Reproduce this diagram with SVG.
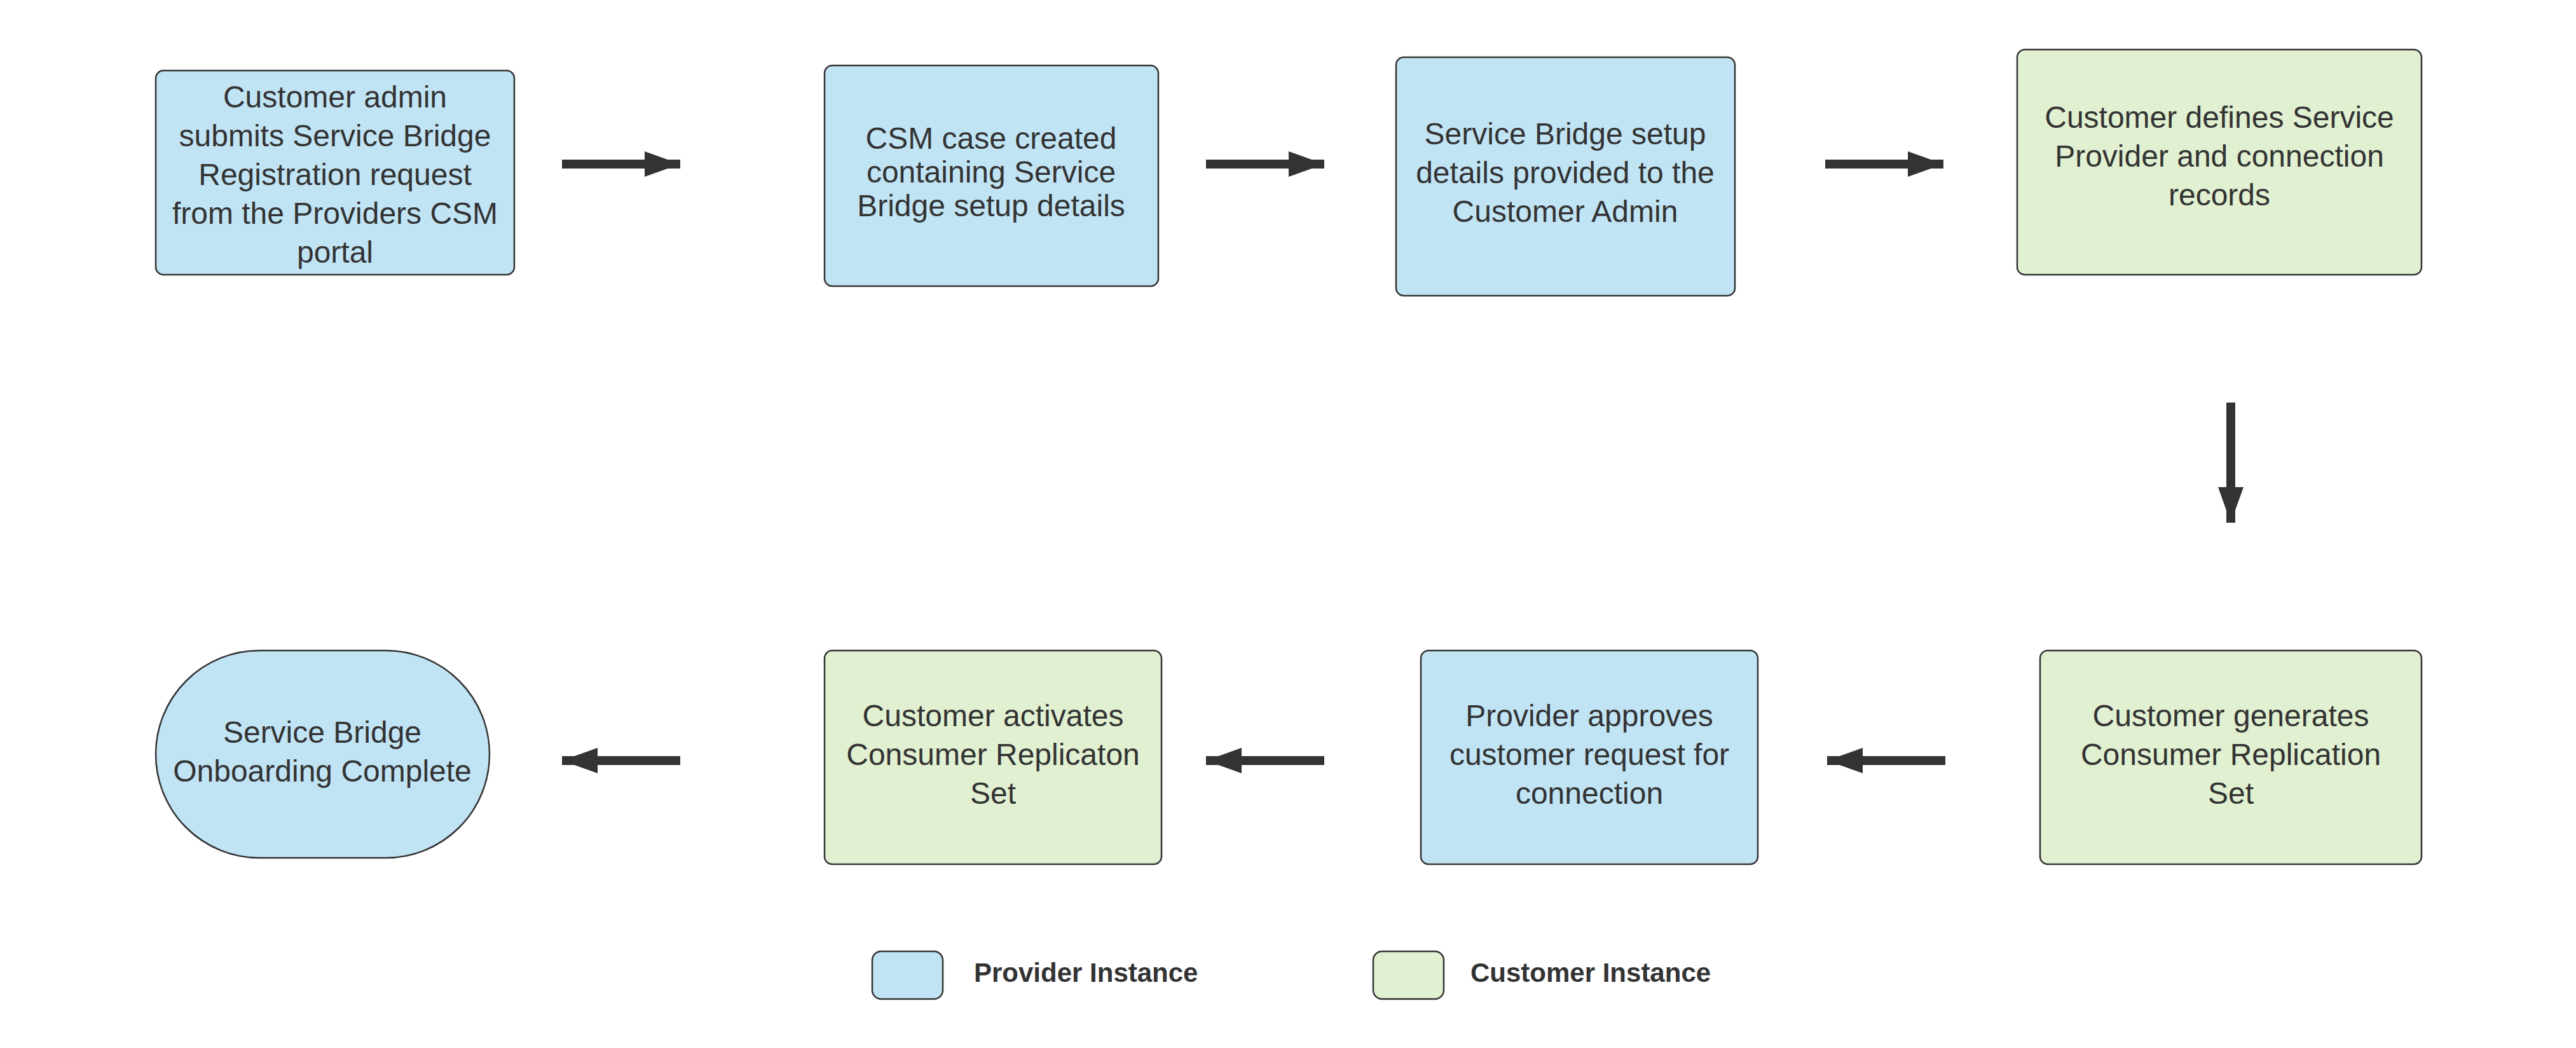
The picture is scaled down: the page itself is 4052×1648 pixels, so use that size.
<svg xmlns="http://www.w3.org/2000/svg" width="4052" height="1648" viewBox="0 0 4052 1648">
<style>
.b{fill:#c1e4f5;stroke:#333;stroke-width:2.5}
.g{fill:#e0f0d1;stroke:#333;stroke-width:2.5}
text{font-family:"Liberation Sans",Arial,sans-serif;font-size:48px;fill:#333;text-anchor:middle}
.l{font-size:42px;font-weight:bold;text-anchor:start}
.c{stroke:#333;stroke-width:14;fill:none;marker-end:url(#ah)}
</style>
<defs><marker id="ah" markerUnits="userSpaceOnUse" markerWidth="60" markerHeight="60" refX="56" refY="20" orient="auto" viewBox="0 0 60 40"><path d="M0,0L56,20L0,40z" fill="#333"/></marker></defs>
<rect width="4052" height="1648" fill="#fff"/>
<g id="n1"><rect class="b" x="245" y="111" width="564" height="321" rx="12"/>
<text x="527" y="169">Customer admin</text><text x="527" y="230">submits Service Bridge</text><text x="527" y="291">Registration request</text><text x="527" y="352">from the Providers CSM</text><text x="527" y="413">portal</text></g>
<g id="n2"><rect class="b" x="1297" y="103" width="525" height="347" rx="12"/>
<text x="1559" y="234">CSM case created</text><text x="1559" y="287">containing Service</text><text x="1559" y="340">Bridge setup details</text></g>
<g id="n3"><rect class="b" x="2196" y="90" width="533" height="375" rx="12"/>
<text x="2462" y="227">Service Bridge setup</text><text x="2462" y="288">details provided to the</text><text x="2462" y="349">Customer Admin</text></g>
<g id="n4"><rect class="g" x="3173" y="78" width="636" height="354" rx="12"/>
<text x="3491" y="201">Customer defines Service</text><text x="3491" y="262">Provider and connection</text><text x="3491" y="323">records</text></g>
<g id="n5"><rect class="g" x="3209" y="1023" width="600" height="336" rx="12"/>
<text x="3509" y="1142">Customer generates</text><text x="3509" y="1203">Consumer Replication</text><text x="3509" y="1264">Set</text></g>
<g id="n6"><rect class="b" x="2235" y="1023" width="530" height="336" rx="12"/>
<text x="2500" y="1142">Provider approves</text><text x="2500" y="1203">customer request for</text><text x="2500" y="1264">connection</text></g>
<g id="n7"><rect class="g" x="1297" y="1023" width="530" height="336" rx="12"/>
<text x="1562" y="1142">Customer activates</text><text x="1562" y="1203">Consumer Replicaton</text><text x="1562" y="1264">Set</text></g>
<g id="n8"><rect class="b" x="245" y="1023" width="525" height="326" rx="163" ry="163"/>
<text x="507" y="1168">Service Bridge</text><text x="507" y="1229">Onboarding Complete</text></g>
<g id="connectors">
<line class="c" x1="884" y1="258" x2="1070" y2="258"/>
<line class="c" x1="1897" y1="258" x2="2083" y2="258"/>
<line class="c" x1="2871" y1="258" x2="3057" y2="258"/>
<line class="c" x1="3509" y1="633" x2="3509" y2="822"/>
<line class="c" x1="3060" y1="1196" x2="2874" y2="1196"/>
<line class="c" x1="2083" y1="1196" x2="1897" y2="1196"/>
<line class="c" x1="1070" y1="1196" x2="884" y2="1196"/>
</g>
<g id="legend">
<rect class="b" x="1372" y="1496" width="111" height="75" rx="14"/>
<text class="l" x="1532" y="1544">Provider Instance</text>
<rect class="g" x="2160" y="1496" width="111" height="75" rx="14"/>
<text class="l" x="2313" y="1544">Customer Instance</text>
</g>
</svg>
